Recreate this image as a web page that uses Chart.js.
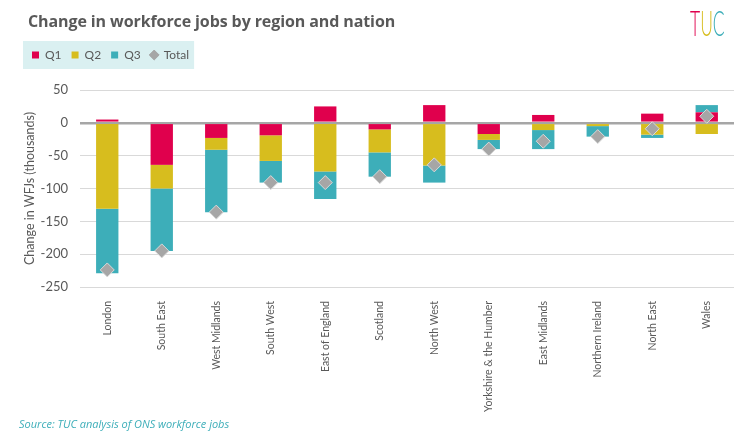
<!DOCTYPE html>
<html>
<head>
<meta charset="utf-8">
<script src="https://cdn.jsdelivr.net/npm/chart.js@4.4.1/dist/chart.umd.min.js"></script>
<style>
  html,body{margin:0;padding:0;background:#fff;}
  #wrap{position:relative;width:750px;height:441px;overflow:hidden;}
  #c{position:absolute;left:0;top:0;}
  #title{position:absolute;left:28px;top:10px;font-family:"Open Sans",sans-serif;font-weight:700;font-size:16px;color:#595959;letter-spacing:-0.1px;}
  #logo{position:absolute;left:690px;top:1px;font-family:"Lato",sans-serif;font-weight:300;font-size:35px;letter-spacing:0px;transform:scaleX(0.5);transform-origin:left top;white-space:nowrap;}
  #source{position:absolute;left:19px;top:416px;font-family:"Open Sans",sans-serif;font-style:italic;font-size:11px;color:#3DAEB9;}
</style>
</head>
<body>
<div id="wrap">
  <canvas id="c" width="750" height="441"></canvas>
  <div id="title">Change in workforce jobs by region and nation</div>
  <div id="logo"><span style="color:#E0004D">T</span><span style="color:#D7BD1E">U</span><span style="color:#3DAEB9">C</span></div>
  <div id="source">Source: TUC analysis of ONS workforce jobs</div>
</div>
<script>
const categories = ["London","South East","West Midlands","South West","East of England","Scotland","North West","Yorkshire & the Humber","East Midlands","Northern Ireland","North East","Wales"];
const q1 = [5, -64, -23, -19, 25, -10, 27, -17, 12, 0, 14, 16];
const q2 = [-131, -36, -18, -39, -74, -35, -65, -9, -11, -5, -18, -17];
const q3 = [-98, -95, -95, -33, -42, -37, -26, -14, -29, -16, -5, 11];
const total = [-224, -195, -136, -91, -91, -82, -64, -40, -28, -21, -9, 10];
const yTicks = [50, 0, -50, -100, -150, -200, -250];

const legendBg = {
  id: 'legendBg',
  beforeInit(chart){
    const lg = chart.legend;
    const orig = lg.fit;
    lg.fit = function(){ orig.call(this); this.height += 19; };
  },
  beforeDraw(chart){
    const lg = chart.legend;
    if(!lg || !lg.legendHitBoxes || !lg.legendHitBoxes.length) return;
    const hb = lg.legendHitBoxes;
    const first = hb[0], last = hb[hb.length-1];
    const ctx = chart.ctx;
    ctx.save();
    ctx.fillStyle = '#DAF0F1';
    const cy = first.top + first.height/2;
    ctx.fillRect(first.left - 9, cy - 14, (last.left + last.width) - first.left + 14, 28);
    ctx.restore();
  }
};

new Chart(document.getElementById('c'), {
  type: 'bar',
  data: {
    labels: categories,
    datasets: [
      {label:'Q1', data:q1, backgroundColor:'#E0004D', stack:'a', order:1, pointStyle:'rect'},
      {label:'Q2', data:q2, backgroundColor:'#D7BD1E', stack:'a', order:1, pointStyle:'rect'},
      {label:'Q3', data:q3, backgroundColor:'#3DAEB9', stack:'a', order:1, pointStyle:'rect'},
      {label:'Total', type:'line', data:total, showLine:false, stack:'total', order:0,
       pointStyle:'rectRot', pointRadius:7, pointHoverRadius:7,
       backgroundColor:'#A6A6A6', borderColor:'#D9D9D9', borderWidth:1}
    ]
  },
  options: {
    responsive:false,
    animation:false,
    devicePixelRatio:1,
    layout:{padding:{top:39,left:22,right:16,bottom:18}},
    datasets:{bar:{barPercentage:0.41, categoryPercentage:1}},
    plugins:{
      title:{display:false},
      tooltip:{enabled:false},
      legend:{
        position:'top', align:'start',
        labels:{
          usePointStyle:true, boxWidth:7, boxHeight:7, padding:10,
          color:'#595959', font:{family:'Lato', size:12},
          sort:(a,b)=>a.datasetIndex-b.datasetIndex,
          generateLabels(chart){
            const items = Chart.defaults.plugins.legend.labels.generateLabels(chart);
            items.forEach(it=>{ if(it.text==='Total'){ it.pointStyle='rectRot'; it.fillStyle='#A6A6A6'; it.strokeStyle='#A6A6A6'; } else { it.strokeStyle=it.fillStyle; } });
            return items;
          }
        }
      }
    },
    scales:{
      x:{
        stacked:true,
        grid:{display:false},
        border:{display:false},
        afterFit(scale){ scale.height = 136; },
        ticks:{autoSkip:false, maxRotation:90, minRotation:90, color:'#595959', font:{family:'Lato', size:10.5}, padding:6}
      },
      y:{
        stacked:true,
        min:-250, max:50,
        afterBuildTicks(scale){ scale.ticks = yTicks.map(v=>({value:v})); },
        afterFit(scale){ scale.width = 58; },
        border:{display:false},
        grid:{
          drawTicks:false,
          color:(ctx)=> ctx.tick && ctx.tick.value===0 ? '#A6A6A6' : '#D9D9D9',
          lineWidth:(ctx)=> ctx.tick && ctx.tick.value===0 ? 2.5 : 1
        },
        ticks:{color:'#595959', font:{family:'Lato', size:13}, padding:12},
        title:{display:true, text:'Change in WFJs (thousands)', color:'#595959', font:{family:'Lato', size:12.5}, padding:{top:0,bottom:4}}
      }
    }
  },
  plugins:[legendBg]
});
</script>
</body>
</html>
